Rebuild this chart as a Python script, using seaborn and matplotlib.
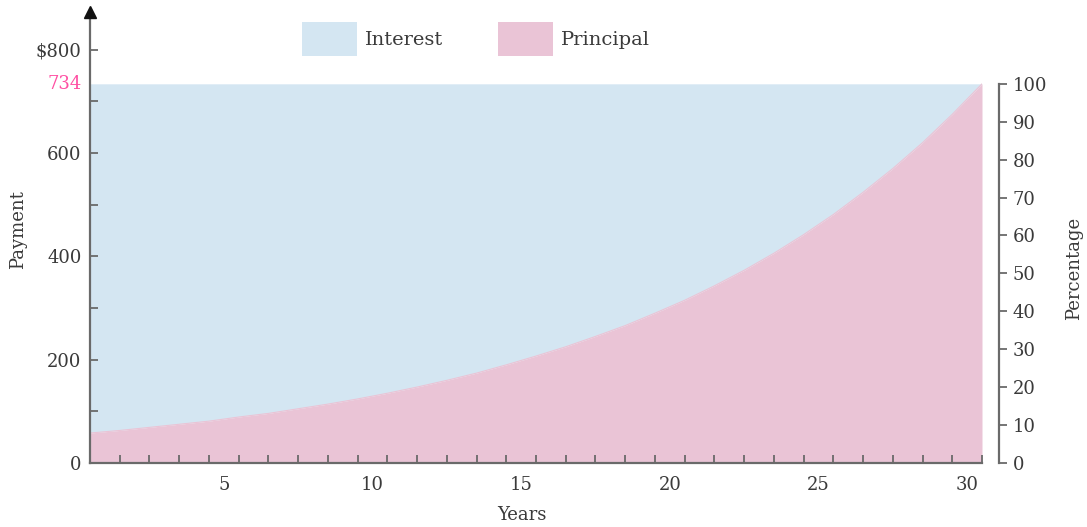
import numpy as np
import pandas as pd
import matplotlib
matplotlib.use("Agg")
import matplotlib.pyplot as plt
import seaborn as sns
from matplotlib.patches import Patch

# ---- data ----
years = [0.5, 1.5, 2.5, 3.5, 4.5, 5.5, 6.5, 7.5, 8.5, 9.5, 10.5, 11.5, 12.5, 13.5,
         14.5, 15.5, 16.5, 17.5, 18.5, 19.5, 20.5, 21.5, 22.5, 23.5, 24.5, 25.5,
         26.5, 27.5, 28.5, 29.5, 30.5]
principal = [58, 63, 69, 75, 81, 89, 96, 105, 114, 124, 135, 147, 160, 174,
             190, 207, 225, 245, 266, 290, 315, 343, 373, 406, 442, 481,
             524, 570, 620, 675, 734]
payment = 734
x_tick_labels = [5, 10, 15, 20, 25, 30]
y_ticks = [0, 200, 400, 600, 800]
y_tick_labels = ["0", "200", "400", "600", "$800"]
pct_ticks = [0, 10, 20, 30, 40, 50, 60, 70, 80, 90, 100]
series_names = ["Interest", "Principal"]

df = pd.DataFrame({"Years": years, "Principal": principal})
df["Total"] = payment

BLUE = "#d4e6f2"
PINK = "#eac4d6"
TEXT = "#3a3a3a"
AXC = "#6a6a6a"
FS = 13

sns.set_theme(style="white")
plt.rcParams["font.family"] = ["DejaVu Serif"]
plt.rcParams["axes.axisbelow"] = False

fig = plt.figure(figsize=(10.87, 5.27), dpi=100)
ax = fig.add_axes([90 / 1087, 64 / 527, 892 / 1087, 451 / 527])
ax.set_axisbelow(False)
ymax = 873
ax.set_xlim(0.5, 30.5)
ax.set_ylim(0, ymax)

ax.fill_between(df["Years"], df["Principal"], df["Total"], color=BLUE, lw=0, zorder=1)
ax.fill_between(df["Years"], 0, df["Principal"], color=PINK, lw=0, zorder=1)
sns.lineplot(data=df, x="Years", y="Principal", ax=ax, color=PINK, lw=0.8, zorder=1.1)

for s in ["top", "right"]:
    ax.spines[s].set_visible(False)
for s in ["left", "bottom"]:
    ax.spines[s].set_color(AXC)
    ax.spines[s].set_linewidth(1.6)
    ax.spines[s].set_zorder(3)

# arrow head on left axis
ax.plot([0], [1], marker="^", color="#111111", markersize=8, transform=ax.transAxes,
        clip_on=False, zorder=5)

# x ticks
ax.set_xticks(x_tick_labels)
ax.set_xticklabels([str(v) for v in x_tick_labels])
ax.set_xticks([y for y in years[1:]], minor=True)
ax.tick_params(axis="x", which="major", bottom=True, length=0, pad=9, labelsize=FS,
               labelcolor=TEXT)
ax.tick_params(axis="x", which="minor", bottom=True, direction="in", length=6, width=1.3,
               color=AXC)

# y ticks
ax.set_yticks(y_ticks)
ax.set_yticklabels(y_tick_labels)
ax.set_yticks([100, 300, 500, 700], minor=True)
ax.tick_params(axis="y", which="both", left=True, direction="in", length=6, width=1.3,
               color=AXC, labelsize=FS, labelcolor=TEXT, pad=6)
ax.set_xlabel("")
ax.set_ylabel("")
ax.text(-0.009, payment, "734", transform=ax.get_yaxis_transform(), ha="right",
        va="center", color="#ff4fa3", fontsize=FS)

# right percentage axis
ax2 = ax.twinx()
ax2.set_ylim(0, ymax / payment * 100)
for s in ["top", "left", "bottom"]:
    ax2.spines[s].set_visible(False)
ax2.spines["right"].set_position(("outward", 12))
ax2.spines["right"].set_bounds(0, 100)
ax2.spines["right"].set_color(AXC)
ax2.spines["right"].set_linewidth(1.6)
ax2.set_yticks(pct_ticks)
ax2.set_yticklabels([str(v) for v in pct_ticks])
ax2.tick_params(axis="y", right=True, direction="out", length=6, width=1.3, color=AXC,
                labelsize=FS, labelcolor=TEXT, pad=4)
ax2.set_ylabel("")

fig.text(18 / 1087, 1 - 230 / 527, "Payment", rotation=90, ha="center", va="center",
         fontsize=FS, color=TEXT)
fig.text(1074 / 1087, 1 - 268 / 527, "Percentage", rotation=90, ha="center", va="center",
         fontsize=FS, color=TEXT)
fig.text(522 / 1087, 1 - 515 / 527, "Years", ha="center", va="center",
         fontsize=FS, color=TEXT)

handles = [Patch(facecolor=BLUE, edgecolor="none"), Patch(facecolor=PINK, edgecolor="none")]
fig.legend(handles, series_names, loc="center", bbox_to_anchor=(476 / 1087, 1 - 39 / 527),
           ncol=2, frameon=False, fontsize=14, handlelength=2.85, handleheight=2.3,
           handletextpad=0.4, columnspacing=2.8, labelcolor=TEXT)

fig.savefig("out.png", dpi=100)
